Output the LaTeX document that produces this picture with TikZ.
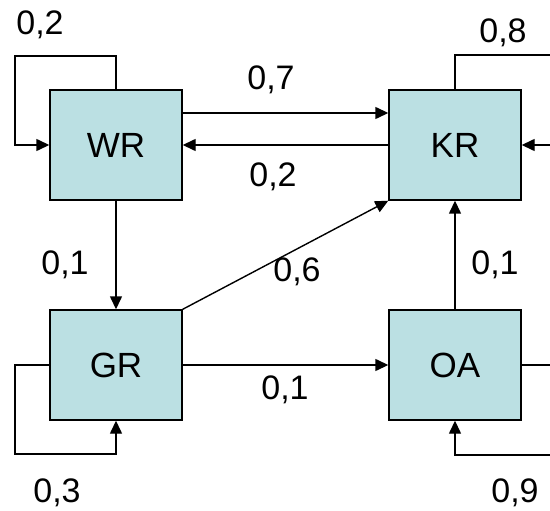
\documentclass[tikz,border=0pt]{standalone}
\usepackage{fontspec}
\setmainfont{Liberation Sans}
\usetikzlibrary{arrows.meta}
\definecolor{boxfill}{RGB}{187,224,227}

\begin{document}
\begin{tikzpicture}[
		x=1pt,y=-1pt,
		state/.style={
			draw=black,fill=boxfill,line width=1.4pt,minimum width=132pt,minimum height=110pt,inner sep=0pt,
			font=\fontsize{35}{40}\selectfont,
		},
		prob/.style={
			font=\fontsize{34}{40}\selectfont,inner sep=0pt,
		},
		link/.style={
			line width=1.4pt,-{Triangle[length=13pt,width=12pt]},
		},
	]

	\clip (0,0) rectangle (550,511);

	% the four states
	\node [state] at (116,145) (wr) {WR};
	\node [state] at (455,145) (kr) {KR};
	\node [state] at (116,365) (gr) {GR};
	\node [state] at (455,365) (oa) {OA};

	% corners of the self loops
	\coordinate (wr-loop) at (15,56);
	\coordinate (kr-loop) at (565,55);
	\coordinate (gr-loop) at (15,454);
	\coordinate (oa-loop) at (565,455);

	% self loops
	\draw [link] (wr.north) |- (wr-loop) |- (wr.west);
	\draw [link] (kr.north) |- (kr-loop) |- (kr.east);
	\draw [link] (gr.west) -| (gr-loop) -| (gr.south);
	\draw [link] (oa.east) -| (oa-loop) -| (oa.south);

	% transitions between states
	\draw [link] ([yshift=32pt]wr.east) -- ([yshift=32pt]kr.west);
	\draw [link] (kr.west) -- (wr.east);
	\draw [link] (wr.south) -- (gr.north);
	\draw [link] (gr.north east) -- (kr.south west);
	\draw [link] (gr.east) -- (oa.west);
	\draw [link] (oa.north) -- (kr.south);

	% probabilities
	\node [prob] at (40,25) (p-wrwr) {0,2};
	\node [prob] at (503,33) (p-krkr) {0,8};
	\node [prob] at (57,493) (p-grgr) {0,3};
	\node [prob] at (515,493) (p-oaoa) {0,9};
	\node [prob] at (271,80) (p-wrkr) {0,7};
	\node [prob] at (273,177) (p-krwr) {0,2};
	\node [prob] at (65,265) (p-wrgr) {0,1};
	\node [prob] at (297,272) (p-grkr) {0,6};
	\node [prob] at (285,390) (p-groa) {0,1};
	\node [prob] at (495,265) (p-oakr) {0,1};

\end{tikzpicture}
\end{document}
